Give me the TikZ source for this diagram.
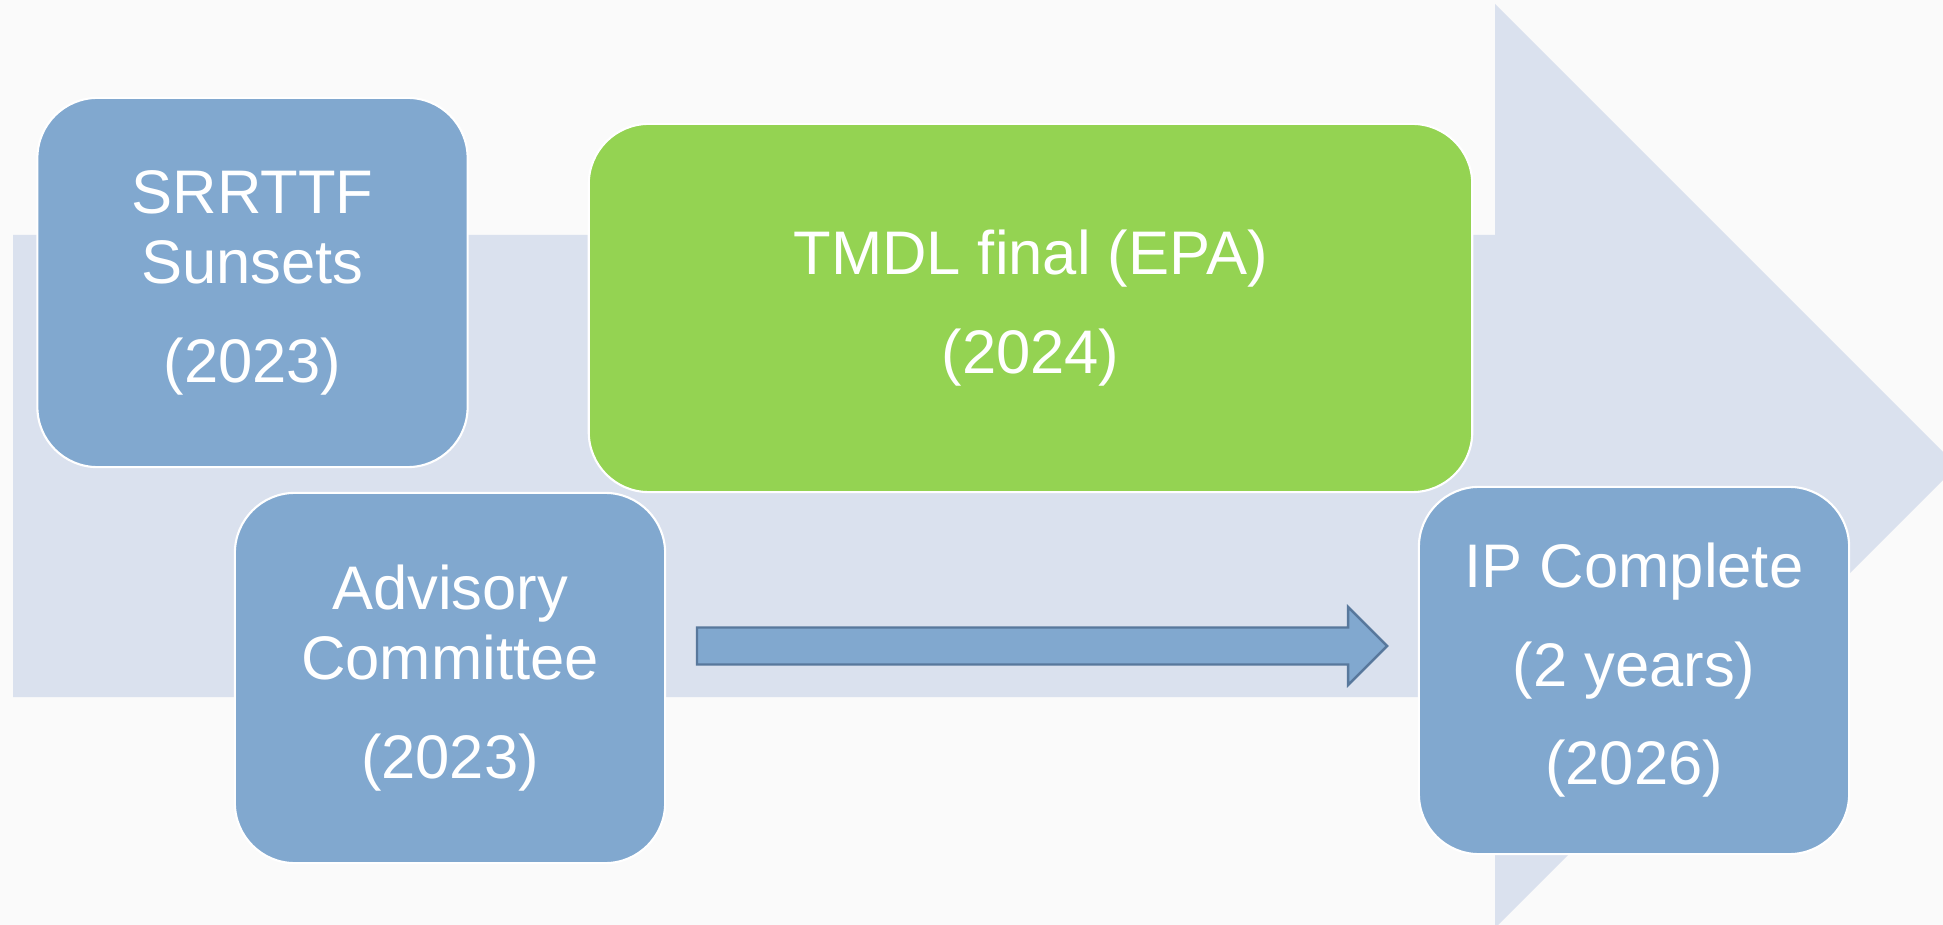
\documentclass[tikz,border=0pt]{standalone}
\usepackage{fontspec}
\setmainfont{Liberation Sans}
\definecolor{pagebg}{HTML}{FAFAFA}
\definecolor{trackblue}{HTML}{DAE1EE}
\definecolor{boxblue}{HTML}{81A8CF}
\definecolor{boxgreen}{HTML}{94D352}
\definecolor{arrowline}{HTML}{58789C}
\begin{document}
\begin{tikzpicture}[x=0.01cm, y=-0.01cm]
    \tikzset{
      milestone/.style={rounded corners=0.6cm, draw=white, line width=0.6pt,
        text=white, align=center, inner sep=0pt,
        font=\fontsize{17.5}{20}\selectfont,
        execute at begin node={\rule{0pt}{16.3pt}}},
      bluebox/.style={milestone, fill=boxblue, minimum width=4.3cm, minimum height=3.69cm},
      greenbox/.style={milestone, fill=boxgreen, minimum width=8.83cm, minimum height=3.68cm},
      flowarrow/.style={fill=boxblue, draw=arrowline, line width=0.7pt, line join=miter}
    }
    \fill [pagebg] (0,0) rectangle (1943,925);
    \useasboundingbox (0,0) rectangle (1943,925);
    % timeline in the back
    \begin{scope}
    \clip (0,0) rectangle (1943,925);
    \fill [trackblue] (13,235) -- (1495,235) -- (1495,4) -- (1957,466)
      -- (1495,928) -- (1495,697) -- (13,697) -- cycle;
    \end{scope}
    \node [bluebox] (srrttf) at (252.5,282.5) {SRRTTF\\Sunsets\\[8pt](2023)};
    \node [greenbox] (tmdl) at (1030.5,308) {TMDL final (EPA)\\[8pt](2024)};
    \node [bluebox, minimum height=3.7cm] (advisory) at (450,678) {Advisory\\Committee\\[8pt](2023)};
    \node [bluebox, minimum height=3.67cm] (ipdone) at (1634,670.5) {IP Complete\\[8pt](2 years)\\[8pt](2026)};
    % block arrow between the two lower boxes
    \coordinate (flowtail) at (697,646);
    \coordinate (flowtip) at (1387,646);
    \draw [flowarrow] (flowtail) ++(0,-18.5) -- ++(651,0) -- ++(0,-20.5) -- (flowtip)
      -- ++(-39,39) -- ++(0,-20.5) -- ++(-651,0) -- cycle;
\end{tikzpicture}
\end{document}
